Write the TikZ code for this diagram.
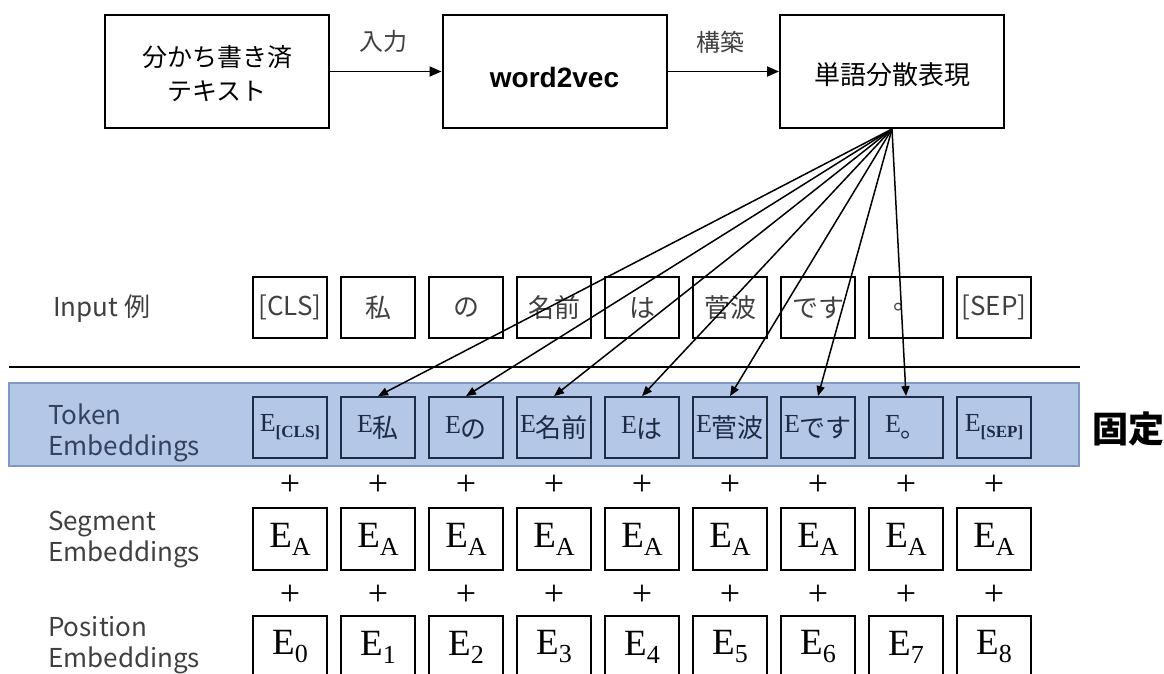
\documentclass[tikz,border=0pt]{standalone}
\usepackage{fontspec}
\setmainfont{Liberation Serif}
\newfontfamily\jp{Noto Sans CJK JP}
\newfontfamily\arialf{Liberation Sans}
\usetikzlibrary{arrows.meta}
\definecolor{bandfill}{HTML}{B4C7E7}
\definecolor{bandedge}{HTML}{7F98C4}
\definecolor{navy}{HTML}{1E2B45}
\definecolor{lbl}{HTML}{404040}
\definecolor{lblb}{HTML}{34425E}
\newcommand\fs[1]{\fontsize{#1}{#1}\selectfont}
\newcommand\ejp[1]{{\fs{26}E}\raisebox{-5pt}{\jp\fs{26}#1}}
\newcommand\esub[1]{{\fs{26}E}\raisebox{-6pt}{\bfseries\fs{17}#1}}
\newcommand\ebig[1]{{\fs{37}E}\raisebox{-8pt}{\fs{26}#1}}
\tikzset{
  topbox/.style={draw, line width=2pt, minimum width=224pt, minimum height=113pt, inner sep=0pt},
  inbox/.style={draw, line width=1.8pt, minimum width=74pt, minimum height=61pt, inner sep=0pt, text=lbl, font=\jp\fs{26}},
  tokbox/.style={draw=navy, line width=1.8pt, minimum width=74pt, minimum height=61pt, inner sep=0pt, text=navy},
  embbox/.style={draw, line width=1.8pt, minimum width=74pt, minimum height=62pt, inner sep=0pt},
  arr/.style={-{Triangle[length=12pt,width=10pt]}, line width=1.8pt},
  fanarr/.style={-{Triangle[length=10pt,width=8pt]}, line width=1.5pt},
  lab/.style={anchor=base west, inner sep=0pt, font=\jp\fs{26}, text=lbl},
  plus/.style={inner sep=0pt, font=\fs{36}},
  txt/.style={inner sep=0pt}
}
\begin{document}
\begin{tikzpicture}[x=1pt,y=-1pt]
\useasboundingbox (0,0) rectangle (1164,673);
\clip (0,0) rectangle (1164,673);
% top row
\node[topbox] (b1) at (217,71.5) {};
\node[txt, align=center, font=\jp\fontsize{25}{34}\selectfont] (b1t) at (217,74) {分かち書き済\\テキスト};
\node[topbox] (b2) at (554.5,71.5) {};
\node[txt, font=\arialf\bfseries\fs{28}] (b2t) at (554.5,77) {word2vec};
\node[topbox] (b3) at (892,71.5) {};
\node[txt, font=\jp\fs{26}] (b3t) at (892,75) {単語分散表現};
\draw[arr] (b1.east) -- (b2.west);
\draw[arr] (b2.east) -- (b3.west);
\node[txt, font=\jp\fs{24}, text=lbl] (l1) at (383,41) {入力};
\node[txt, font=\jp\fs{24}, text=lbl] (l2) at (720,42) {構築};
% input row
\node[lab] (inlab) at (53,316) {Input 例};
\foreach \t [count=\i from 0] in {{[CLS]},私,の,名前,は,菅波,です,。,{[SEP]}}
  \node[inbox] (in\i) at (290+88*\i,307.5) {\t};
\coordinate (hl1) at (9,367);
\coordinate (hl2) at (1080,367);
\draw[line width=1.6pt] (hl1) -- (hl2);
% token band
\node[fill=bandfill, draw=bandedge, line width=1.2pt, minimum width=1070pt, minimum height=83pt, inner sep=0pt] (band) at (544,424.5) {};
\node[lab, text=lblb] (tk1) at (48,424) {Token};
\node[lab, text=lblb] (tk2) at (48,455) {Embeddings};
\node[tokbox] (t0) at (290,427.5) {\esub{[CLS]}};
\node[tokbox] (t1) at (378,427.5) {\ejp{私}};
\node[tokbox] (t2) at (466,427.5) {\ejp{の}};
\node[tokbox] (t3) at (554,427.5) {\ejp{名前}};
\node[tokbox] (t4) at (642,427.5) {\ejp{は}};
\node[tokbox] (t5) at (730,427.5) {\ejp{菅波}};
\node[tokbox] (t6) at (818,427.5) {\ejp{です}};
\node[tokbox] (t7) at (906,427.5) {\ejp{。}};
\node[tokbox] (t8) at (994,427.5) {\esub{[SEP]}};
\node[txt, font=\jp\bfseries\fs{36}] (kotei) at (1128,429) {固定};
% segment and position
\node[lab] (sg1) at (48,530) {Segment};
\node[lab] (sg2) at (48,561) {Embeddings};
\node[lab] (ps1) at (48,636) {Position};
\node[lab] (ps2) at (48,667) {Embeddings};
\foreach \i in {0,...,8} {
  \node[plus] (pa\i) at (290+88*\i,485) {+};
  \node[embbox] (s\i) at (290+88*\i,539) {\ebig{A}};
  \node[plus] (pb\i) at (290+88*\i,595) {+};
  \node[embbox] (p\i) at (290+88*\i,647) {\ebig{\i}};
}
% fan arrows
\foreach \i in {1,...,7}
  \draw[fanarr] (b3.south) -- (t\i.north);
\end{tikzpicture}
\end{document}
